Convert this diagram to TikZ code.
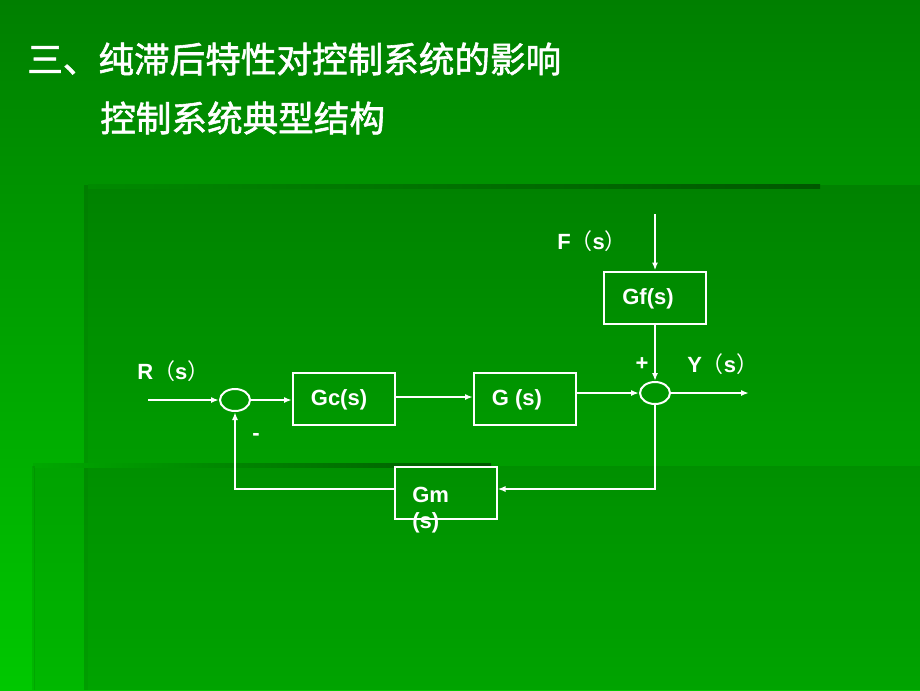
\documentclass[tikz,border=0pt]{standalone}
\usepackage{fontspec}
\setmainfont{Liberation Sans}
\newfontfamily\cjk{Noto Sans CJK SC}
\newfontfamily\cjkt[FakeBold=1.6]{Noto Sans CJK SC}
\usetikzlibrary{arrows.meta,shapes.geometric}
\definecolor{bgtop}{HTML}{007F00}
\definecolor{bgmid}{HTML}{00A600}
\definecolor{bgbot}{HTML}{00C800}
\definecolor{shdark}{HTML}{005800}
\definecolor{shlightA}{HTML}{008A00}
\definecolor{shlightB}{HTML}{00A800}
\begin{document}
\begin{tikzpicture}[x=0.75pt,y=-0.75pt,
  wline/.style={draw=white, line width=1.5pt},
  arr/.style={wline, -{Latex[length=6pt,width=4.5pt]}},
  blk/.style={draw=white, line width=1.5pt, minimum width=76.5pt, minimum height=39pt, inner sep=0},
  sumj/.style={ellipse, draw=white, line width=1.5pt, minimum width=22.5pt, minimum height=16.5pt, inner sep=0},
  lbl/.style={text=white, font=\bfseries\fontsize{16.5}{19.5}\selectfont, inner sep=0},
  ttl/.style={text=white, font=\cjkt\fontsize{26.7}{30}\selectfont, inner sep=0, anchor=west}]
\useasboundingbox (0,0) rectangle (920,690);
% background
\shade[top color=bgtop, middle color=bgmid, bottom color=bgbot] (0,0) rectangle (920,690);
\fill[black, opacity=0.11] (88,185) rectangle (920,690);
\fill[black, opacity=0.08] (34,466) rectangle (920,690);
\shade[left color=shlightA, right color=shdark] (88,184) rectangle (820,188);
\fill[black, opacity=0.14] (84,185) rectangle (88,690);
\shade[left color=shlightB, right color=shdark] (33,463) rectangle (491,467);
\fill[black, opacity=0.08] (32,466) rectangle (35,690);
% titles
\node[ttl] (t1) at (27,59) {三、纯滞后特性对控制系统的影响};
\node[ttl] (t2) at (100,118) {控制系统典型结构};
% blocks
\node[blk] (gc) at (344,399) {};
\node[blk] (g) at (525,399) {};
\node[blk] (gf) at (655,297.5) {};
\node[blk] (gm) at (445.5,493) {};
\node[sumj] (j1) at (235,400) {};
\node[sumj] (j2) at (655,393) {};
% block texts
\node[lbl] (gct) at (339,400) {Gc(s)};
\node[lbl] (gt) at (517,400) {G (s)};
\node[lbl] (gft) at (648,299) {Gf(s)};
\node[lbl, align=left, anchor=north west] (gmt) at (412,487) {Gm\\(s)};
% signal labels
\node[lbl, anchor=west] (rl) at (137,371) {R{\cjk\mdseries （}s{\cjk\mdseries ）}};
\node[lbl, anchor=west] (fl) at (557,241) {F{\cjk\mdseries （}s{\cjk\mdseries ）}};
\node[lbl, anchor=west] (yl) at (687,364) {Y{\cjk\mdseries （}s{\cjk\mdseries ）}};
\node[lbl] (plus) at (642,364) {+};
\node[lbl] (minus) at (256,437) {-};
% connectors
\coordinate (rin) at (148,400);
\coordinate (fin) at (655,214);
\coordinate (yout) at (749,393);
\coordinate (fy) at (0,489);
\draw[arr] (rin) -- (j1.west);
\draw[arr] (j1.east) -- (gc.west |- j1.east);
\draw[arr] (gc.east |- 0,397) -- (g.west |- 0,397);
\draw[arr] (g.east |- j2.west) -- (j2.west);
\draw[arr] (j2.east) -- (yout);
\draw[arr] (fin) -- (gf.north);
\draw[arr] (gf.south) -- (j2.north);
\draw[arr] (j2.south) |- (gm.east |- fy);
\draw[arr] (gm.west |- fy) -| (j1.south);
\end{tikzpicture}
\end{document}
